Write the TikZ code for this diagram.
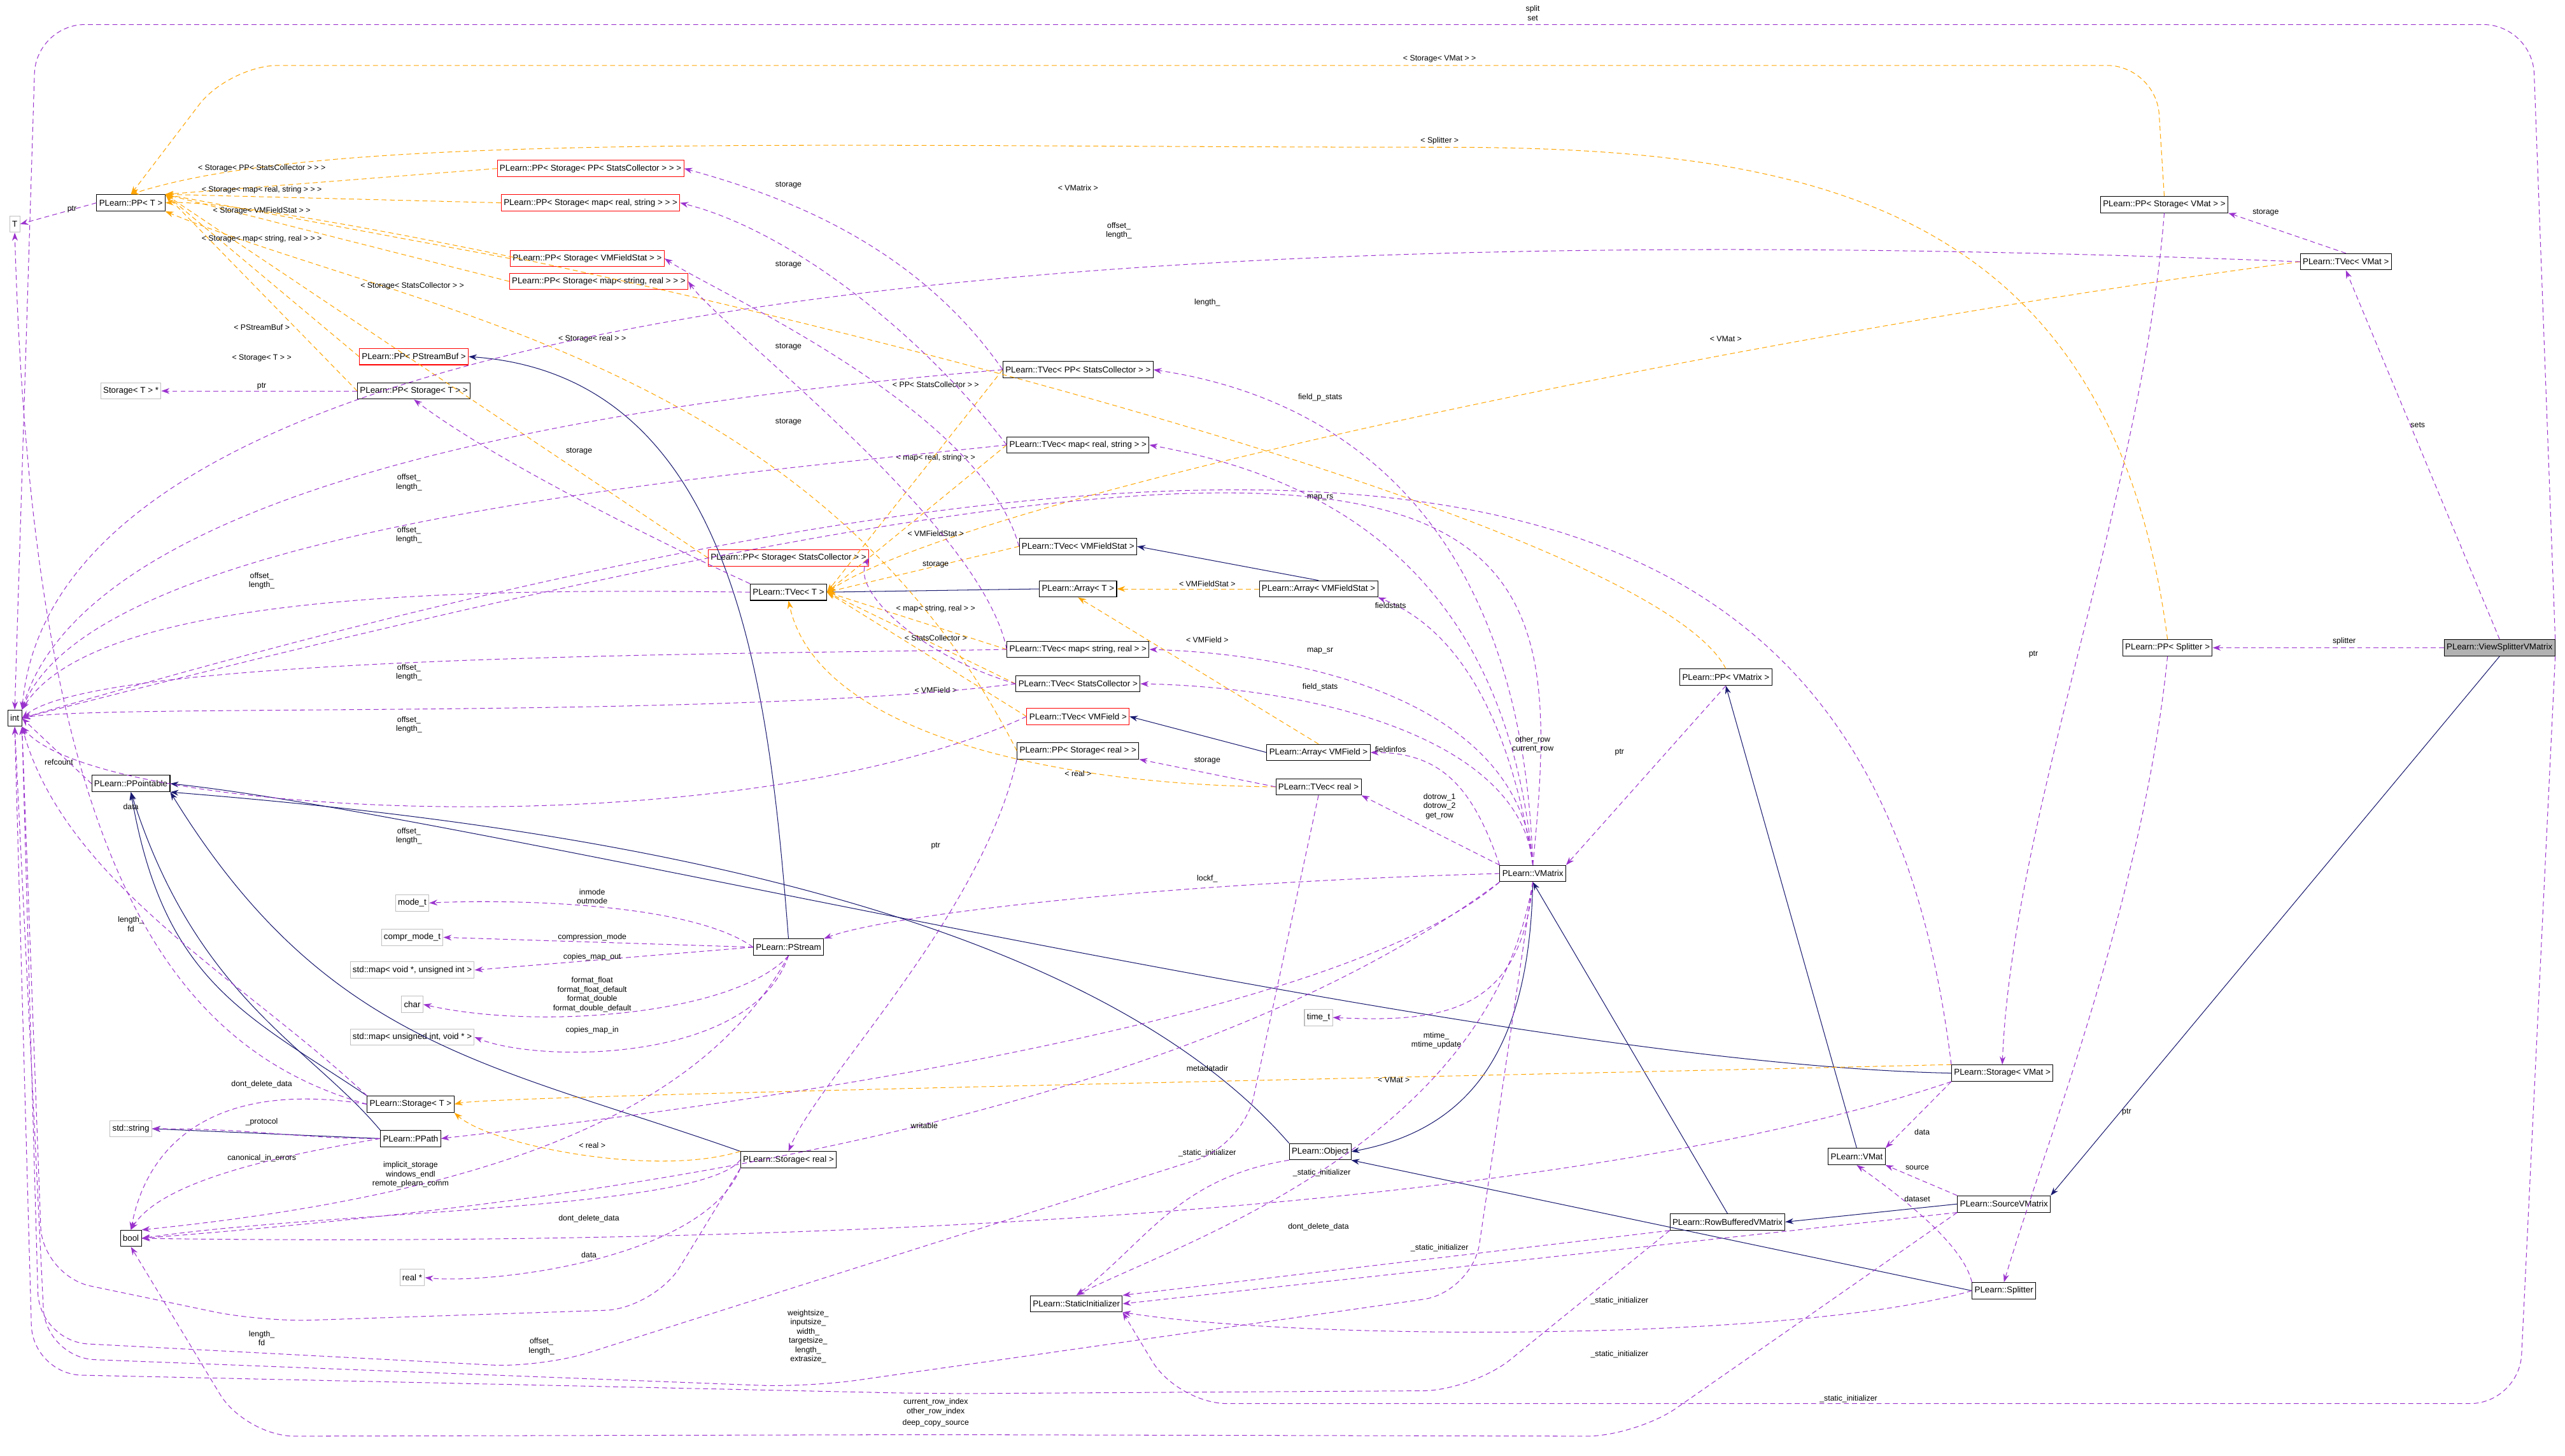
\documentclass[tikz,border=0pt]{standalone}
\usepackage{fontspec}
\setmainfont{Liberation Sans}
\usetikzlibrary{arrows.meta}
\definecolor{pur}{HTML}{9A32CD}
\definecolor{org}{HTML}{FFA500}
\definecolor{nav}{HTML}{191970}
\tikzset{
 box/.style={draw=black,fill=white,inner sep=1.5pt,minimum height=10pt,font=\fontsize{5.2}{6}\selectfont},
 rbox/.style={box,draw=red},
 gbox/.style={box,draw=gray!50},
 fbox/.style={box,fill=gray!60},
 use/.style={pur,dashed,dash pattern=on 3pt off 2pt,-{Stealth[length=5pt,width=3.5pt]}},
 tpl/.style={org,dashed,dash pattern=on 3pt off 2pt,-{Stealth[length=5pt,width=3.5pt]}},
 inh/.style={nav,-{Stealth[length=5pt,width=3.5pt]}},
 lbl/.style={font=\fontsize{4.8}{5.6}\selectfont,align=center,inner sep=0pt},
 rc/.style={rounded corners=30pt}
}
\begin{document}
\begin{tikzpicture}[x=1pt,y=-1pt]
\useasboundingbox (0,0) rectangle (1568,890);
% nodes
\node[fbox] (vsv) at (1528,396) {PLearn::ViewSplitterVMatrix};
\node[box] (pps) at (1325,396) {PLearn::PP< Splitter >};
\node[box] (tvm) at (1434,160) {PLearn::TVec< VMat >};
\node[box] (ppsv) at (1323,125) {PLearn::PP< Storage< VMat > >};
\node[box] (sv) at (1224,656) {PLearn::Storage< VMat >};
\node[box] (src) at (1225,736) {PLearn::SourceVMatrix};
\node[box] (vmat) at (1135,707) {PLearn::VMat};
\node[box] (rbv) at (1056,747) {PLearn::RowBufferedVMatrix};
\node[box] (spl) at (1225,789) {PLearn::Splitter};
\node[box] (vm) at (937,534) {PLearn::VMatrix};
\node[box] (ppvm) at (1055,414) {PLearn::PP< VMatrix >};
\node[box] (obj) at (807,704) {PLearn::Object};
\node[box] (si) at (658,797) {PLearn::StaticInitializer};
\node[gbox] (tt) at (806,622) {time\_t};
\node[box] (avf) at (806,460) {PLearn::Array< VMField >};
\node[box] (tr) at (806,481) {PLearn::TVec< real >};
\node[box] (avfs) at (806,360) {PLearn::Array< VMFieldStat >};
\node[box] (tvfs) at (659,334) {PLearn::TVec< VMFieldStat >};
\node[box] (at) at (659,360) {PLearn::Array< T >};
\node[box] (tmsr) at (659,397) {PLearn::TVec< map< string, real > >};
\node[box] (tsc) at (659,418) {PLearn::TVec< StatsCollector >};
\node[rbox] (tvf) at (659,438) {PLearn::TVec< VMField >};
\node[box] (ppsr) at (659,459) {PLearn::PP< Storage< real > >};
\node[box] (tmrs) at (659,272) {PLearn::TVec< map< real, string > >};
\node[box] (tpsc) at (659,226) {PLearn::TVec< PP< StatsCollector > >};
\node[box] (tt2) at (482,362) {PLearn::TVec< T >};
\node[rbox] (ppssc) at (482,341) {PLearn::PP< Storage< StatsCollector > >};
\node[rbox] (ppsmsr) at (366,172) {PLearn::PP< Storage< map< string, real > > >};
\node[rbox] (ppsvfs) at (359,158) {PLearn::PP< Storage< VMFieldStat > >};
\node[rbox] (ppsmrs) at (361,124) {PLearn::PP< Storage< map< real, string > > >};
\node[rbox] (ppspsc) at (361,103) {PLearn::PP< Storage< PP< StatsCollector > > >};
\node[rbox] (pppsb) at (253,218) {PLearn::PP< PStreamBuf >};
\node[box] (ppst) at (253,239) {PLearn::PP< Storage< T > >};
\node[gbox] (stp) at (80,239) {Storage< T > *};
\node[box] (ppt) at (80,124) {PLearn::PP< T >};
\node[gbox] (T) at (9,137) {T};
\node[box] (int) at (9,439) {int};
\node[box] (ppo) at (80,479) {PLearn::PPointable};
\node[gbox] (mode) at (252,552) {mode\_t};
\node[gbox] (cm) at (252,573) {compr\_mode\_t};
\node[gbox] (mvu) at (252,593) {std::map< void *, unsigned int >};
\node[gbox] (chr) at (252,614) {char};
\node[gbox] (muv) at (252,634) {std::map< unsigned int, void * >};
\node[box] (ps) at (482,579) {PLearn::PStream};
\node[box] (st) at (251,675) {PLearn::Storage< T >};
\node[box] (pp) at (251,696) {PLearn::PPath};
\node[gbox] (str) at (80,690) {std::string};
\node[box] (bool) at (80,757) {bool};
\node[gbox] (rp) at (252,781) {real *};
\node[box] (sr) at (482,709) {PLearn::Storage< real >};

% inheritance
\draw[inh] (vsv.south) -- (src.north east);
\draw[inh] (src.west) -- (rbv.east);
\draw[inh] (rbv.north) -- (vm.south);
\draw[inh] (vm.south) .. controls (935,640) and (900,690) .. (obj.east);
\draw[inh] (spl.west) -- (obj.south east);
\draw[inh] (vmat.north) -- (ppvm.south);
\draw[inh] (at.west) -- (tt2.east);
\draw[inh] (avfs.north) -- (tvfs.east);
\draw[inh] (avf.west) -- (tvf.east);
\draw[inh] (ps.north) .. controls (470,420) and (450,230) .. (pppsb.east);
\draw[inh] (pp.west) -- (str.east);
\draw[inh] (st.north west) .. controls (150,620) and (100,600) .. (ppo.south);
\draw[inh] (pp.north west) .. controls (190,640) and (120,610) .. (ppo.south);
\draw[inh] (sr.north west) .. controls (300,650) and (200,640) .. (ppo.south east);
\draw[inh] (obj.north west) .. controls (650,540) and (300,500) .. (ppo.south east);
\draw[inh] (sv.west) .. controls (900,650) and (300,500) .. (ppo.east);

% template instances
\foreach \a in {ppspsc,ppsmrs,ppsvfs,ppsmsr,ppssc,pppsb,ppst} \draw[tpl] (\a.west) -- (ppt.north east);
\draw[tpl] (ppsr.west) .. controls (500,220) and (250,190) .. (ppt.south east);
\draw[tpl,rc] (ppsv.north) -- (1318,40) -- (140,40) -- (ppt.north);
\draw[tpl] (pps.north) .. controls (1290,120) and (1100,90) .. (880,90) .. controls (500,90) and (200,80) .. (ppt.north);
\draw[tpl] (ppvm.north) .. controls (1000,300) and (200,120) .. (ppt.east);
\draw[tpl] (tvm.west) .. controls (1100,200) and (600,300) .. (tt2.east);
\foreach \a in {tpsc,tmrs,tvfs,tmsr,tsc,tvf} \draw[tpl] (\a.west) -- (tt2.east);
\draw[tpl] (tr.west) .. controls (650,480) and (500,450) .. (tt2.south);
\draw[tpl] (avfs.west) -- (at.east);
\draw[tpl] (avf.north) -- (at.south);
\draw[tpl] (sv.north west) .. controls (800,660) and (300,670) .. (st.east);
\draw[tpl] (sr.north west) .. controls (400,720) and (300,700) .. (st.south east);
\node[lbl] at (160,103) {< Storage< PP< StatsCollector > > >};
\node[lbl] at (160,116) {< Storage< map< real, string > > >};
\node[lbl] at (160,129) {< Storage< VMFieldStat > >};
\node[lbl] at (160,146) {< Storage< map< string, real > > >};
\node[lbl] at (252,175) {< Storage< StatsCollector > >};
\node[lbl] at (362,207) {< Storage< real > >};
\node[lbl] at (160,200) {< PStreamBuf >};
\node[lbl] at (160,219) {< Storage< T > >};
\node[lbl] at (880,36) {< Storage< VMat > >};
\node[lbl] at (880,86) {< Splitter >};
\node[lbl] at (659,115) {< VMatrix >};
\node[lbl] at (1055,207) {< VMat >};
\node[lbl] at (572,235) {< PP< StatsCollector > >};
\node[lbl] at (572,280) {< map< real, string > >};
\node[lbl] at (572,326) {< VMFieldStat >};
\node[lbl] at (572,372) {< map< string, real > >};
\node[lbl] at (572,390) {< StatsCollector >};
\node[lbl] at (572,422) {< VMField >};
\node[lbl] at (659,473) {< real >};
\node[lbl] at (738,357) {< VMFieldStat >};
\node[lbl] at (738,391) {< VMField >};
\node[lbl] at (852,660) {< VMat >};
\node[lbl] at (362,700) {< real >};

% usage
\draw[use] (vsv.west) -- (pps.east); \node[lbl] at (1433,392) {splitter};
\draw[use] (vsv.north) -- (tvm.south); \node[lbl] at (1478,260) {sets};
\draw[use,rc] (vsv.north east) -- (1548,15) -- (22,15) -- (int.north); \node[lbl] at (937,8) {split\\set};
\draw[use,rc] (vsv.south east) -- (1540,858) -- (720,858) -- (si.south east); \node[lbl] at (1130,855) {\_static\_initializer};
\draw[use] (tvm.north) -- (ppsv.south east); \node[lbl] at (1385,130) {storage};
\draw[use] (tvm.west) .. controls (900,140) and (40,140) .. (int.north east); \node[lbl] at (684,141) {offset\_\\length\_};
\draw[use] (ppsv.south) .. controls (1310,300) and (1230,500) .. (sv.north); \node[lbl] at (1243,400) {ptr};
\draw[use] (pps.south) .. controls (1310,550) and (1250,700) .. (spl.north); \node[lbl] at (1300,680) {ptr};
\draw[use] (sv.south west) -- (vmat.north east); \node[lbl] at (1175,692) {data};
\draw[use] (sv.north west) .. controls (1150,300) and (900,180) .. (int.east); \node[lbl] at (738,185) {length\_};
\draw[use] (sv.south west) .. controls (900,760) and (300,760) .. (bool.east); \node[lbl] at (806,750) {dont\_delete\_data};
\draw[use] (src.north west) -- (vmat.south east); \node[lbl] at (1172,714) {source};
\draw[use] (spl.north west) .. controls (1200,760) and (1160,730) .. (vmat.south); \node[lbl] at (1172,733) {dataset};
\draw[use] (ppvm.south) -- (vm.north east); \node[lbl] at (990,460) {ptr};
\draw[use] (vm.north) .. controls (920,420) and (880,380) .. (avfs.south east); \node[lbl] at (850,370) {fieldstats};
\draw[use] (vm.north west) .. controls (900,480) and (880,460) .. (avf.east); \node[lbl] at (850,458) {fieldinfos};
\draw[use] (vm.north west) -- (tr.south east); \node[lbl] at (880,493) {dotrow\_1\\dotrow\_2\\get\_row};
\draw[use] (vm.north) .. controls (930,430) and (800,400) .. (tmsr.east); \node[lbl] at (807,398) {map\_sr};
\draw[use] (vm.north) .. controls (930,450) and (800,420) .. (tsc.east); \node[lbl] at (807,420) {field\_stats};
\draw[use] (vm.north) .. controls (920,340) and (800,290) .. (tmrs.east); \node[lbl] at (807,304) {map\_rs};
\draw[use] (vm.north) .. controls (930,300) and (800,240) .. (tpsc.east); \node[lbl] at (807,243) {field\_p\_stats};
\draw[use] (vm.west) .. controls (700,540) and (540,560) .. (ps.north east); \node[lbl] at (738,537) {lockf\_};
\draw[use] (vm.south) .. controls (930,620) and (880,625) .. (tt.east); \node[lbl] at (878,636) {mtime\_\\mtime\_update};
\draw[use] (vm.south west) .. controls (800,640) and (320,690) .. (pp.east); \node[lbl] at (738,653) {metadatadir};
\draw[use,rc] (vm.south) -- (900,790) -- (494,848) -- (28,830) -- (int.south); \node[lbl] at (494,817) {weightsize\_\\inputsize\_\\width\_\\targetsize\_\\length\_\\extrasize\_};
\draw[use] (vm.north) .. controls (960,300) and (940,200) .. (int.east); \node[lbl] at (937,455) {other\_row\\current\_row};
\draw[use] (vm.south west) .. controls (700,700) and (300,740) .. (bool.east); \node[lbl] at (565,688) {writable};
\draw[use] (vm.south) .. controls (910,700) and (720,760) .. (si.north); \node[lbl] at (808,717) {\_static\_initializer};
\draw[use] (obj.south west) .. controls (720,720) and (700,760) .. (si.north); \node[lbl] at (738,705) {\_static\_initializer};
\draw[use] (rbv.south west) -- (si.north east); \node[lbl] at (880,763) {\_static\_initializer};
\draw[use] (src.south west) -- (si.east); \node[lbl] at (990,795) {\_static\_initializer};
\draw[use] (spl.west) .. controls (1100,820) and (800,820) .. (si.south east); \node[lbl] at (990,828) {\_static\_initializer};
\draw[use,rc] (rbv.south west) -- (900,850) -- (572,852) -- (20,840) -- (int.south); \node[lbl] at (572,860) {current\_row\_index\\other\_row\_index};
\draw[use,rc] (src.south west) -- (1000,878) -- (572,877) -- (150,878) -- (bool.south); \node[lbl] at (572,870) {deep\_copy\_source};
\draw[use] (tr.west) -- (ppsr.south east); \node[lbl] at (738,465) {storage};
\draw[use,rc] (tr.south) -- (760,700) -- (331,836) -- (24,820) -- (int.south east); \node[lbl] at (331,823) {offset\_\\length\_};
\draw[use] (ppsr.south west) .. controls (600,560) and (500,660) .. (sr.north); \node[lbl] at (572,517) {ptr};
\draw[use] (sr.south west) .. controls (430,770) and (300,785) .. (rp.east); \node[lbl] at (360,767) {data};
\draw[use] (sr.west) .. controls (430,740) and (200,740) .. (bool.east); \node[lbl] at (360,745) {dont\_delete\_data};
\draw[use,rc] (sr.south west) -- (400,800) -- (160,808) -- (26,780) -- (int.south east); \node[lbl] at (160,818) {length\_\\fd};
\draw[use] (tt2.north west) .. controls (400,330) and (300,280) .. (ppst.south); \node[lbl] at (354,276) {storage};
\draw[use] (tt2.west) .. controls (300,360) and (60,360) .. (int.north east); \node[lbl] at (160,355) {offset\_\\length\_};
\draw[use] (ppst.west) -- (stp.east); \node[lbl] at (160,236) {ptr};
\draw[use] (ppt.west) -- (T.east); \node[lbl] at (44,128) {ptr};
\draw[use] (ppo.west) -- (int.east); \node[lbl] at (36,466) {refcount};
\draw[use] (st.west) .. controls (100,640) and (20,520) .. (T.south); \node[lbl] at (80,493) {data};
\draw[use] (st.north west) .. controls (150,600) and (40,540) .. (int.south east); \node[lbl] at (80,565) {length\_\\fd};
\draw[use] (st.west) .. controls (130,660) and (90,700) .. (bool.north); \node[lbl] at (160,663) {dont\_delete\_data};
\draw[use] (ps.west) .. controls (420,550) and (300,550) .. (mode.east); \node[lbl] at (362,548) {inmode\\outmode};
\draw[use] (ps.west) -- (cm.east); \node[lbl] at (362,573) {compression\_mode};
\draw[use] (ps.west) -- (mvu.east); \node[lbl] at (362,585) {copies\_map\_out};
\draw[use] (ps.south) .. controls (450,620) and (330,630) .. (chr.east); \node[lbl] at (362,608) {format\_float\\format\_float\_default\\format\_double\\format\_double\_default};
\draw[use] (ps.south) .. controls (460,650) and (330,650) .. (muv.east); \node[lbl] at (362,630) {copies\_map\_in};
\draw[use] (ps.south) .. controls (430,680) and (300,730) .. (bool.north east); \node[lbl] at (251,718) {implicit\_storage\\windows\_endl\\remote\_plearn\_comm};
\draw[use] (pp.west) .. controls (180,696) and (160,690) .. (str.east); \node[lbl] at (160,686) {\_protocol};
\draw[use] (pp.west) .. controls (180,705) and (100,720) .. (bool.north); \node[lbl] at (160,708) {canonical\_in\_errors};
\draw[use] (tpsc.west) .. controls (560,150) and (480,120) .. (ppspsc.east); \node[lbl] at (482,113) {storage};
\draw[use] (tmrs.west) .. controls (560,200) and (480,140) .. (ppsmrs.east); \node[lbl] at (482,162) {storage};
\draw[use] (tvfs.west) .. controls (600,250) and (440,180) .. (ppsvfs.east); \node[lbl] at (572,345) {storage};
\draw[use] (tmsr.west) .. controls (600,320) and (440,200) .. (ppsmsr.east); \node[lbl] at (482,258) {storage};
\draw[use] (tsc.west) .. controls (560,400) and (520,360) .. (ppssc.east); \node[lbl] at (482,212) {storage};
\draw[use] (tpsc.west) .. controls (450,240) and (60,280) .. (int.north east); \node[lbl] at (250,295) {offset\_\\length\_};
\draw[use] (tmrs.west) .. controls (450,290) and (60,320) .. (int.north east); \node[lbl] at (250,327) {offset\_\\length\_};
\draw[use] (tmsr.west) .. controls (450,400) and (60,400) .. (int.east); \node[lbl] at (250,411) {offset\_\\length\_};
\draw[use] (tsc.west) .. controls (450,440) and (60,430) .. (int.east); \node[lbl] at (250,443) {offset\_\\length\_};
\draw[use] (tvf.west) .. controls (450,520) and (60,500) .. (int.south east); \node[lbl] at (250,511) {offset\_\\length\_};
\end{tikzpicture}
\end{document}
